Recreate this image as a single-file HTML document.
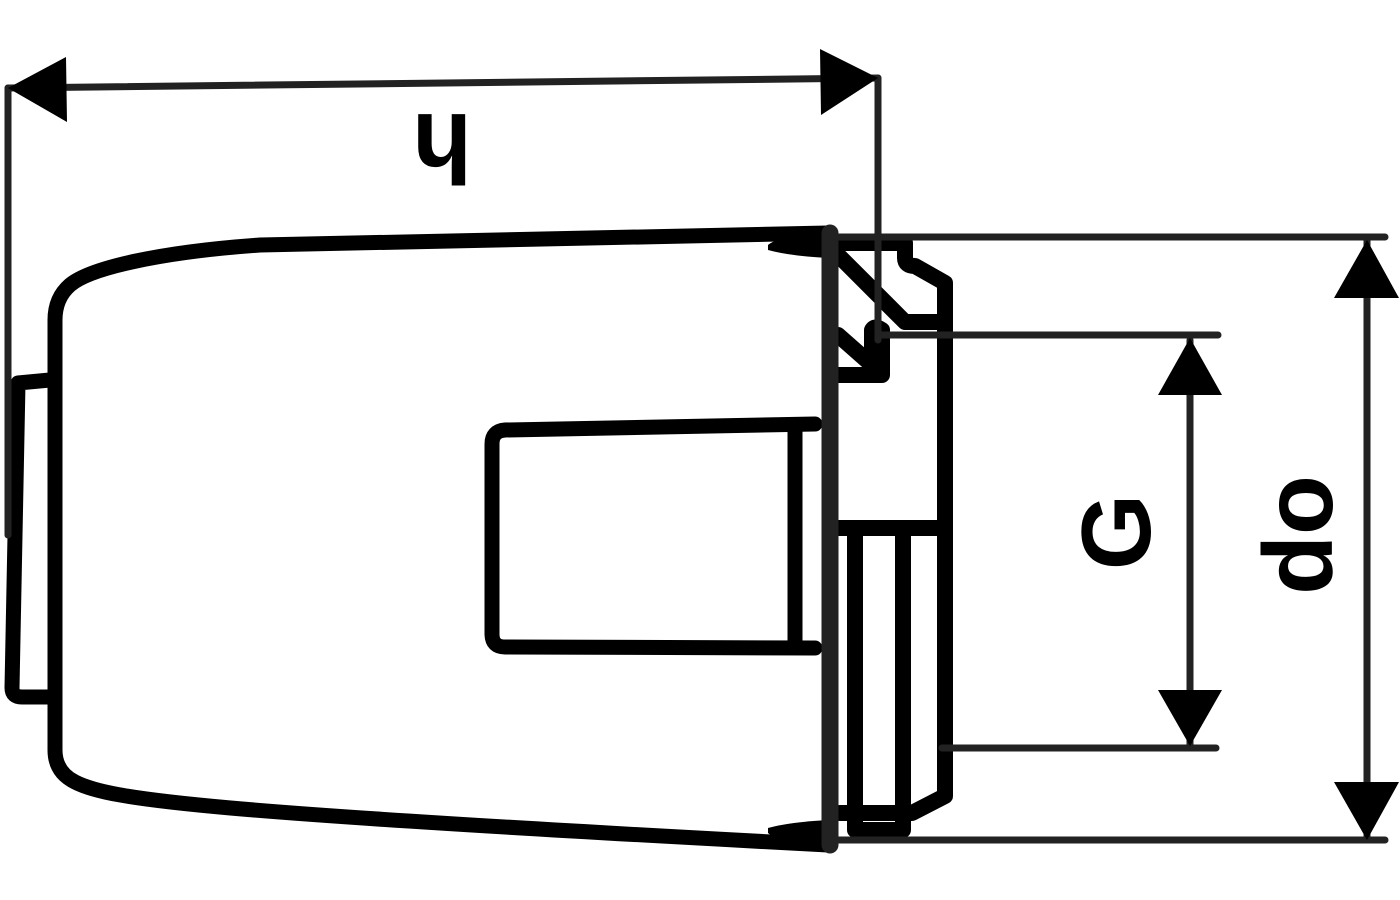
<!DOCTYPE html>
<html><head><style>html,body{margin:0;padding:0;background:#fff;width:1400px;height:900px;overflow:hidden}</style></head>
<body>
<svg width="1400" height="900" viewBox="0 0 1400 900" xmlns="http://www.w3.org/2000/svg">
<g fill="none" stroke="#000" stroke-linejoin="round" stroke-linecap="round">
<path d="M828 233 L260 245 C160 252 90 268 70 285 Q55 298 55 320 L55 750 Q55 772 75 782 C110 800 200 812 828 845" stroke-width="15"/>
<path d="M50 380 L18 383 L12 688 Q12 697 22 697 L50 697" stroke-width="15"/>
<path d="M815 424 L505 430 Q492 431 492 444 L492 634 Q492 647 505 647 L815 648" stroke-width="15"/>
<path d="M795 428 L795 645" stroke-width="15"/>
<path d="M838 243 L905 243 L905 258 Q905 266 915 266 L945 283 L945 790 L945 796 L912 813 L840 813" stroke-width="16"/>
<path d="M838 255 L905 322 L940 322" stroke-width="16"/>
<path d="M838 335 L872 365 L872 330 Q875 325 882 330 L882 375 L838 375" stroke-width="16"/>
<path d="M838 528 L945 528" stroke-width="16"/>
<path d="M855 535 L855 830 L903 830 L903 535" stroke-width="16"/>
</g>
<g fill="#000">
<path d="M768 245 Q778 236 828 232 L828 258 Q790 256 768 250 Z"/>
<path d="M768 833 Q778 842 828 846 L828 820 Q790 822 768 828 Z"/>
</g>
<g stroke="#222" fill="none" stroke-linecap="round">
<line x1="830" y1="233" x2="830" y2="845" stroke-width="17"/>
<line x1="8" y1="88" x2="8" y2="535" stroke-width="7"/>
<line x1="878" y1="78" x2="878" y2="340" stroke-width="7"/>
<line x1="8" y1="88" x2="878" y2="78" stroke-width="7"/>
<line x1="838" y1="237" x2="1385" y2="237" stroke-width="7"/>
<line x1="838" y1="840" x2="1385" y2="840" stroke-width="7"/>
<line x1="880" y1="335" x2="1218" y2="335" stroke-width="7"/>
<line x1="942" y1="748" x2="1216" y2="748" stroke-width="7"/>
<line x1="1367" y1="240" x2="1367" y2="838" stroke-width="7"/>
<line x1="1190" y1="340" x2="1190" y2="745" stroke-width="7"/>
</g>
<g fill="#000">
<polygon points="8,88 66,57 67,122"/>
<polygon points="878,78 820,49 821,115"/>
<polygon points="1367,240 1334,298 1399,298"/>
<polygon points="1367,840 1334,782 1399,782"/>
<polygon points="1190,338 1158,395 1222,395"/>
<polygon points="1190,746 1158,690 1222,690"/>
</g>
<g font-family="Liberation Sans, sans-serif" font-weight="bold" font-size="98" fill="#000" text-anchor="middle">
<text transform="translate(442,114) rotate(180)">h</text>
<text transform="translate(1150,532) rotate(-90)">G</text>
<text transform="translate(1332,535) rotate(-90)">do</text>
</g>
</svg>
</body></html>
